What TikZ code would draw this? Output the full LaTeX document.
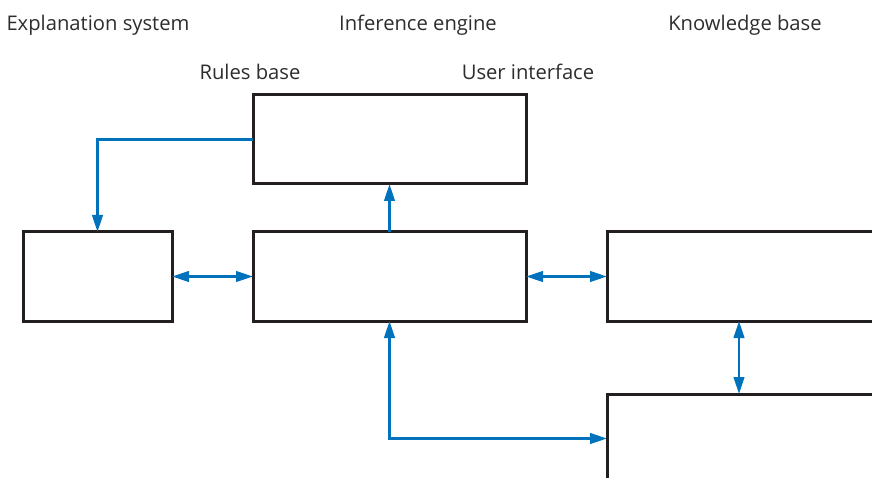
\documentclass[tikz,border=0pt]{standalone}
\usepackage{fontspec}
\setmainfont{Open Sans}
\usetikzlibrary{arrows.meta}
\definecolor{arrblue}{RGB}{0,114,188}
\definecolor{boxline}{RGB}{35,31,32}
\definecolor{txtgray}{RGB}{45,45,45}
\tikzset{
  blk/.style={draw=boxline, line width=3pt, rectangle, inner sep=0pt, outer sep=0pt, anchor=north west},
  lbl/.style={text=txtgray, font=\fontsize{20.2}{24}\selectfont, anchor=base, inner sep=0pt},
  con/.style={draw=arrblue, line width=2.6pt, arrows={-Triangle[length=17pt,width=10.5pt]}},
  bicon/.style={draw=arrblue, line width=2.6pt, arrows={Triangle[length=17pt,width=10.5pt]-Triangle[length=17pt,width=10.5pt]}},
}
\begin{document}
\begin{tikzpicture}[x=1pt,y=-1pt]
\useasboundingbox (0,0) rectangle (872,478);
\clip (0,0) rectangle (872,478);
\node[lbl] (t1) at (98,30.5) {Explanation system};
\node[lbl] (t2) at (418,30.5) {Inference engine};
\node[lbl] (t3) at (745,30.5) {Knowledge base};
\node[lbl] (t4) at (250,79.5) {Rules base};
\node[lbl] (t5) at (528,79.5) {User interface};

\node[blk, minimum width=273pt, minimum height=89pt] (top) at (253,95) {};
\node[blk, minimum width=149pt, minimum height=89pt] (left) at (23,232) {};
\node[blk, minimum width=273pt, minimum height=89pt] (mid) at (253,232) {};
\node[blk, minimum width=300pt, minimum height=89pt] (right) at (607,232) {};
\node[blk, minimum width=300pt, minimum height=89pt] (bot) at (607,394) {};
\coordinate (cx) at (739,350);

\draw[con] (top.west) -| (left.north);
\draw[con] (mid.north) -- (top.south);
\draw[bicon] (left.east) -- (mid.west);
\draw[bicon] (mid.east) -- (right.west);
\draw[bicon] (right.south -| cx) -- (bot.north -| cx);
\draw[bicon] (mid.south) |- (bot.west);
\end{tikzpicture}
\end{document}
